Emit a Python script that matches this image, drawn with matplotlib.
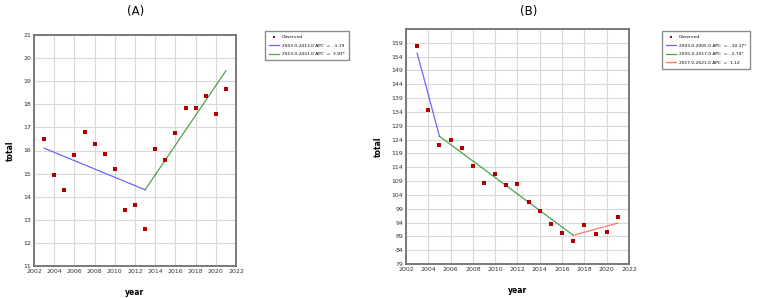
import numpy as np
import matplotlib.pyplot as plt

# Panel A data
years = list(range(2003, 2022))
obs_a = [16.5, 14.94, 14.29, 15.79, 16.81, 16.3, 15.83, 15.21, 13.44, 13.64,
         12.59, 16.06, 15.6, 16.74, 17.84, 17.84, 18.34, 17.6, 18.66]
seg_a = [
    ([2003, 2013], [16.1, 14.3], '#4444ff', '2003.0-2013.0 APC  =  -1.19'),
    ([2013, 2021], [14.3, 19.45], '#228b22', '2013.0-2021.0 APC  =  3.93*'),
]
yticks_a = list(range(11, 22))

# Panel B data
obs_b = [158.0, 134.8, 121.9, 123.8, 120.8, 114.4, 108.3, 111.4, 107.6, 107.8,
         101.4, 98.3, 93.6, 90.3, 87.5, 93.2, 89.7, 90.4, 95.9]
seg_b = [
    ([2003, 2005], [155.3, 125.2], '#4444ff', '2003.0-2005.0 APC  =  -10.17*'),
    ([2005, 2017], [125.2, 89.4], '#228b22', '2005.0-2017.0 APC  =  -2.74*'),
    ([2017, 2021], [89.4, 93.8], '#ff5555', '2017.0-2021.0 APC  =  1.12'),
]
yticks_b = list(range(79, 160, 5))

xticks = list(range(2002, 2023, 2))

spine_color = '#707070'
grid_color = '#d9d9d9'
marker_color = '#b00000'

fig = plt.figure(figsize=(7.58, 2.98), dpi=100)


def draw_panel(rect, obs, segs, yticks, ylim, title, title_x, legend_rect):
    ax = fig.add_axes(rect)
    ax.scatter(years, obs, marker='s', s=9, color=marker_color, zorder=4,
               label='Observed', linewidths=0)
    for xs, ys, c, lab in segs:
        ax.plot(xs, ys, color=c, linewidth=0.9, zorder=3, label=lab, alpha=0.8)
    ax.set_xlim(2002, 2022)
    ax.set_ylim(*ylim)
    ax.set_xticks(xticks)
    ax.set_yticks(yticks)
    ax.tick_params(labelsize=4.5, length=0, pad=2, colors='#333333')
    ax.grid(True, color=grid_color, linewidth=0.8, zorder=0)
    for s in ax.spines.values():
        s.set_color(spine_color)
        s.set_linewidth(1.3)
    ax.set_xlabel('year', fontsize=5.5, fontweight='bold', labelpad=10)
    ax.set_ylabel('total', fontsize=5.5, fontweight='bold', labelpad=6)
    fig.text(title_x, 1 - 12 / 298, title, fontsize=8.5, ha='center', va='center')
    h, l = ax.get_legend_handles_labels()
    leg = fig.legend(h, l, loc='upper left', bbox_to_anchor=legend_rect,
                     fontsize=3.2, frameon=True, fancybox=False,
                     edgecolor=spine_color, handlelength=2.2, borderpad=0.9,
                     labelspacing=1.0, handletextpad=0.6, markerscale=0.7)
    leg.get_frame().set_linewidth(1.0)
    return ax


draw_panel([34 / 758, 1 - 266 / 298, 202 / 758, 231 / 298], obs_a, seg_a,
           yticks_a, (11, 21), '(A)', 136 / 758, (263 / 758, 1 - 29 / 298))
draw_panel([406 / 758, 1 - 264 / 298, 223 / 758, 235 / 298], obs_b, seg_b,
           yticks_b, (79, 164), '(B)', 529 / 758, (660 / 758, 1 - 29 / 298))

fig.savefig('out.png', dpi=100)
